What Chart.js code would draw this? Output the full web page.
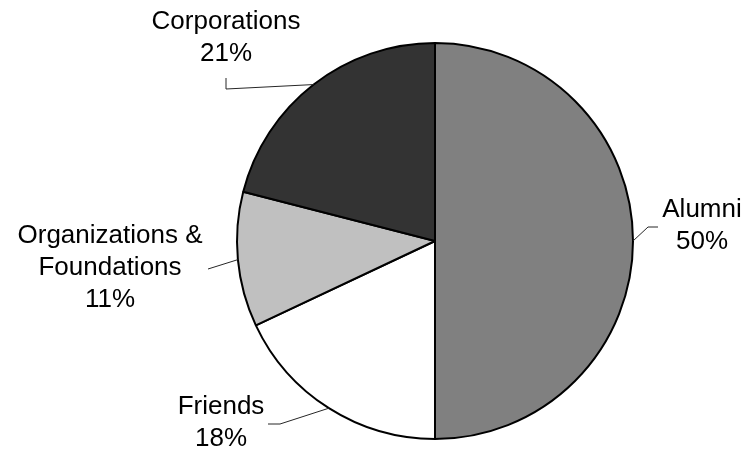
<!DOCTYPE html>
<html>
<head>
<meta charset="utf-8">
<script src="https://cdn.jsdelivr.net/npm/chart.js@4"></script>
<style>
html,body{margin:0;padding:0;background:#fff;}
canvas{display:block;}
</style>
</head>
<body>
<canvas id="c" width="749" height="456"></canvas>
<script>
const categories = ["Alumni", "Friends", "Organizations & Foundations", "Corporations"];
const values = [50, 18, 11, 21];
const labelLines = [["Alumni", "50%"], ["Friends", "18%"], ["Organizations &", "Foundations", "11%"], ["Corporations", "21%"]];
const sliceColors = ["#808080", "#ffffff", "#c0c0c0", "#333333"];

// label layout: text block centre and leader bend points, relative to pie centre
const labelLayout = [
  { tx: 267, ty: -15, pts: [[213, -14], [223, -14]] },
  { tx: -214, ty: 182, pts: [[-155, 183], [-167, 183]] },
  { tx: -325, ty: 27, pts: [[-227, 28]] },
  { tx: -209, ty: -203, pts: [[-209, -152], [-209, -163]] }
];

const labelPlugin = {
  id: 'pieLabels',
  afterDatasetsDraw(chart) {
    const ctx = chart.ctx;
    const meta = chart.getDatasetMeta(0);
    ctx.save();
    ctx.font = '26px "Liberation Sans", Arial, sans-serif';
    ctx.fillStyle = '#000';
    ctx.textAlign = 'center';
    ctx.textBaseline = 'middle';
    meta.data.forEach((arc, i) => {
      const p = arc.getProps(['x', 'y', 'startAngle', 'endAngle', 'outerRadius'], true);
      const mid = (p.startAngle + p.endAngle) / 2;
      const sx = p.x + Math.cos(mid) * p.outerRadius;
      const sy = p.y + Math.sin(mid) * p.outerRadius;
      const L = labelLayout[i];
      ctx.strokeStyle = '#262626';
      ctx.lineWidth = 1;
      ctx.beginPath();
      ctx.moveTo(sx, sy);
      L.pts.forEach(q => ctx.lineTo(p.x + q[0], p.y + q[1]));
      ctx.stroke();
      const lines = labelLines[i];
      const lh = 32;
      const top = p.y + L.ty - (lines.length - 1) * lh / 2;
      lines.forEach((t, k) => ctx.fillText(t, p.x + L.tx, top + k * lh));
    });
    ctx.restore();
  }
};

new Chart(document.getElementById('c'), {
  type: 'pie',
  data: {
    labels: categories,
    datasets: [{
      data: values,
      backgroundColor: sliceColors,
      borderColor: '#000000',
      borderWidth: 2
    }]
  },
  options: {
    responsive: false,
    animation: false,
    layout: { padding: { top: 42, bottom: 16, left: 236, right: 115 } },
    plugins: { legend: { display: false }, tooltip: { enabled: false } }
  },
  plugins: [labelPlugin]
});
</script>
</body>
</html>
